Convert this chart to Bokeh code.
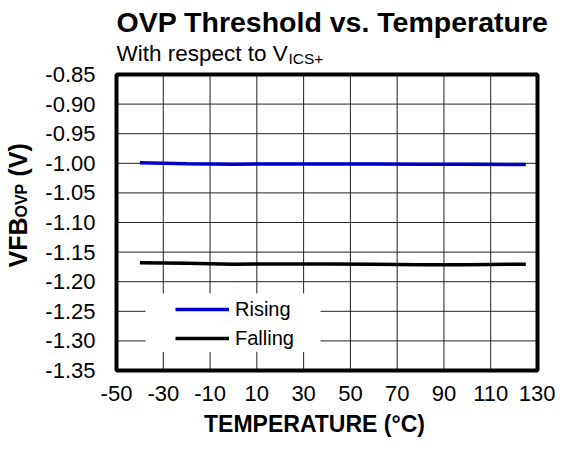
import math
from bokeh.plotting import figure
from bokeh.models import (Label, Legend, LegendItem, BoxAnnotation, FixedTicker,
                          Range1d, PrintfTickFormatter)
from bokeh.embed import file_html
from bokeh.resources import INLINE

# ---- data ----
temps = [-40, -20, 0, 20, 40, 60, 80, 100, 125]
rising = [-0.9992, -1.0008, -1.0015, -1.0010, -1.0010, -1.0012, -1.0015, -1.0018, -1.0022]
falling = [-1.1680, -1.1690, -1.1705, -1.1700, -1.1700, -1.1705, -1.1712, -1.1712, -1.1705]
x_ticks = [-50, -30, -10, 10, 30, 50, 70, 90, 110, 130]
y_ticks = [-0.85, -0.90, -0.95, -1.00, -1.05, -1.10, -1.15, -1.20, -1.25, -1.30, -1.35]
series_names = ["Rising", "Falling"]
series_colors = ["#0000C8", "#000000"]
title_text = "OVP Threshold vs. Temperature"
subtitle_text = "With respect to V"
subtitle_sub = "ICS+"
xlabel_text = "TEMPERATURE (°C)"
ylabel_parts = ["VFB", "OVP", "(V)"]

FONT = "Liberation Sans"

# ---- layout (canvas pixels) ----
W, H = 555, 438
BOX_L, BOX_R, BOX_T, BOX_B = 116, 537, 74, 370
X0, X1 = x_ticks[0], x_ticks[-1]
Y0, Y1 = min(y_ticks), max(y_ticks)
kx = (BOX_R - BOX_L) / (X1 - X0)
ky = (BOX_B - BOX_T) / (Y1 - Y0)
xr = Range1d(X0 - BOX_L / kx, X1 + (W - BOX_R) / kx)
yr = Range1d(Y0 - (H - BOX_B) / ky, Y1 + BOX_T / ky)


def dx(cx):
    return X0 + (cx - BOX_L) / kx


def dy(cy):
    return Y1 - (cy - BOX_T) / ky


p = figure(width=W, height=H, output_backend="svg", toolbar_location=None,
           title=None, x_range=xr, y_range=yr,
           min_border_left=0, min_border_right=0, min_border_top=0, min_border_bottom=0)
p.background_fill_color = "white"
p.border_fill_color = "white"
p.outline_line_color = None
p.grid.visible = False

# axes, fixed on the plot box edges
p.xaxis.fixed_location = Y0
p.yaxis.fixed_location = X0
p.xaxis.ticker = FixedTicker(ticks=x_ticks)
p.yaxis.ticker = FixedTicker(ticks=y_ticks)
p.xaxis.formatter = PrintfTickFormatter(format="%d")
p.yaxis.formatter = PrintfTickFormatter(format="%.2f")
for ax in (p.xaxis, p.yaxis):
    ax.axis_line_color = None
    ax.major_tick_line_color = None
    ax.minor_tick_line_color = None
    ax.major_tick_out = 0
    ax.major_tick_in = 0
    ax.major_label_text_font = FONT
    ax.major_label_text_font_size = "22px"
    ax.major_label_text_color = "black"
p.yaxis.major_label_standoff = 21
p.xaxis.major_label_standoff = 15

# grid lines inside the plot box
xi = x_ticks[1:-1]
yi = y_ticks[1:-1]
p.segment(x0=xi, y0=[Y0] * len(xi), x1=xi, y1=[Y1] * len(xi),
          line_color="#222222", line_width=1)
p.segment(x0=[X0] * len(yi), y0=yi, x1=[X1] * len(yi), y1=yi,
          line_color="#222222", line_width=1)

r1 = p.line(temps, rising, line_color=series_colors[0], line_width=3.5)
r2 = p.line(temps, falling, line_color=series_colors[1], line_width=3.5)

# white legend backdrop
p.add_layout(BoxAnnotation(left=dx(145), right=dx(320), bottom=dy(351.5), top=dy(293),
                           fill_color="white", fill_alpha=1, line_color=None))

legend = Legend(items=[LegendItem(label=series_names[0], renderers=[r1]),
                       LegendItem(label=series_names[1], renderers=[r2])],
                location=(175, H - 350), background_fill_alpha=0, border_line_color=None,
                glyph_width=54, glyph_height=24, label_standoff=6, spacing=5,
                padding=0, margin=0, label_text_font=FONT, label_text_font_size="20px",
                label_text_color="black")
p.add_layout(legend)

# plot box outline
p.add_layout(BoxAnnotation(left=X0, right=X1, bottom=Y0, top=Y1,
                           fill_alpha=0, line_color="black", line_alpha=1, line_width=4))

# titles
p.add_layout(Label(x=116, y=H - 21, x_units="screen", y_units="screen",
                   text=title_text, text_font=FONT, text_color="black",
                   text_font_size="28.5px", text_font_style="bold",
                   text_baseline="alphabetic", text_align="left"))
p.add_layout(Label(x=116, y=H - 53, x_units="screen", y_units="screen",
                   text=subtitle_text, text_font=FONT, text_color="black",
                   text_font_size="22.5px", text_baseline="alphabetic", text_align="left"))
p.add_layout(Label(x=288, y=H - 58, x_units="screen", y_units="screen",
                   text=subtitle_sub, text_font=FONT, text_color="black",
                   text_font_size="15.5px", text_baseline="alphabetic", text_align="left"))

# x axis label
p.add_layout(Label(x=314, y=H - 423, x_units="screen", y_units="screen",
                   text=xlabel_text, text_font=FONT, text_font_style="bold",
                   text_color="black",
                   text_font_size="23px", text_baseline="alphabetic", text_align="center"))

# y axis label (rotated)
A = math.pi / 2
Y_START = H - 267
p.add_layout(Label(x=17, y=Y_START, x_units="screen", y_units="screen", angle=A,
                   text=ylabel_parts[0], text_font=FONT, text_font_style="bold",
                   text_color="black",
                   text_font_size="25px", text_baseline="alphabetic", text_align="left"))
p.add_layout(Label(x=21, y=Y_START + 50, x_units="screen", y_units="screen", angle=A,
                   text=ylabel_parts[1], text_font=FONT, text_font_style="bold",
                   text_color="black",
                   text_font_size="16px", text_baseline="alphabetic", text_align="left"))
p.add_layout(Label(x=17, y=Y_START + 91, x_units="screen", y_units="screen", angle=A,
                   text=ylabel_parts[2], text_font=FONT, text_font_style="bold",
                   text_color="black",
                   text_font_size="25px", text_baseline="alphabetic", text_align="left"))

open("out.html", "w").write(file_html(p, INLINE))
